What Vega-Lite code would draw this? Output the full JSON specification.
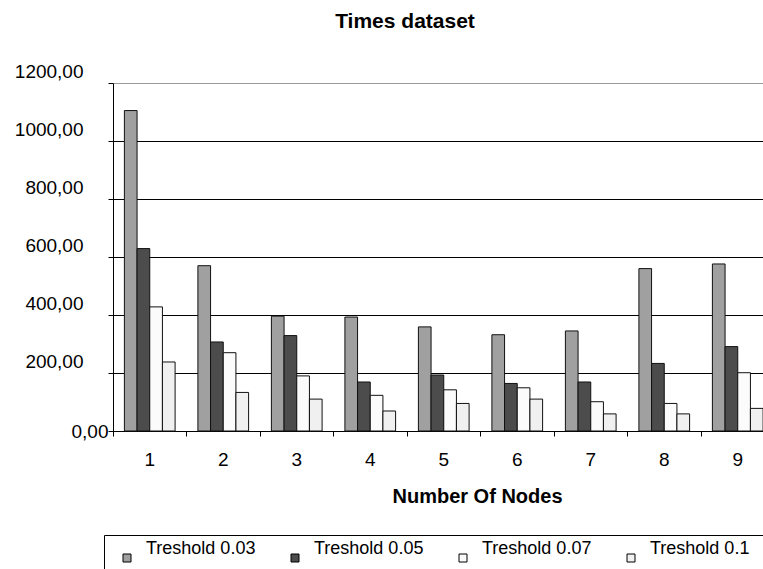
{
  "$schema": "https://vega.github.io/schema/vega-lite/v6.json",
  "autosize": {"type": "none"},
  "padding": {"left": 113, "top": 83, "right": 0, "bottom": 138},
  "width": 650,
  "height": 348,
  "background": "white",
  "title": {"text": "Times dataset", "font": "Liberation Sans", "fontSize": 21, "fontWeight": "bold", "color": "black", "anchor": "middle", "frame": "group", "dx": -33, "offset": 30},
  "data": {"values": [
    {"nodes": "1", "series": "Treshold 0.03", "time": 1105},
    {"nodes": "1", "series": "Treshold 0.05", "time": 629},
    {"nodes": "1", "series": "Treshold 0.07", "time": 428},
    {"nodes": "1", "series": "Treshold 0.1", "time": 238},
    {"nodes": "2", "series": "Treshold 0.03", "time": 570},
    {"nodes": "2", "series": "Treshold 0.05", "time": 307},
    {"nodes": "2", "series": "Treshold 0.07", "time": 270},
    {"nodes": "2", "series": "Treshold 0.1", "time": 133},
    {"nodes": "3", "series": "Treshold 0.03", "time": 396},
    {"nodes": "3", "series": "Treshold 0.05", "time": 329},
    {"nodes": "3", "series": "Treshold 0.07", "time": 190},
    {"nodes": "3", "series": "Treshold 0.1", "time": 110},
    {"nodes": "4", "series": "Treshold 0.03", "time": 393},
    {"nodes": "4", "series": "Treshold 0.05", "time": 169},
    {"nodes": "4", "series": "Treshold 0.07", "time": 123},
    {"nodes": "4", "series": "Treshold 0.1", "time": 69},
    {"nodes": "5", "series": "Treshold 0.03", "time": 359},
    {"nodes": "5", "series": "Treshold 0.05", "time": 193},
    {"nodes": "5", "series": "Treshold 0.07", "time": 142},
    {"nodes": "5", "series": "Treshold 0.1", "time": 95},
    {"nodes": "6", "series": "Treshold 0.03", "time": 332},
    {"nodes": "6", "series": "Treshold 0.05", "time": 164},
    {"nodes": "6", "series": "Treshold 0.07", "time": 149},
    {"nodes": "6", "series": "Treshold 0.1", "time": 110},
    {"nodes": "7", "series": "Treshold 0.03", "time": 345},
    {"nodes": "7", "series": "Treshold 0.05", "time": 169},
    {"nodes": "7", "series": "Treshold 0.07", "time": 101},
    {"nodes": "7", "series": "Treshold 0.1", "time": 59},
    {"nodes": "8", "series": "Treshold 0.03", "time": 560},
    {"nodes": "8", "series": "Treshold 0.05", "time": 233},
    {"nodes": "8", "series": "Treshold 0.07", "time": 95},
    {"nodes": "8", "series": "Treshold 0.1", "time": 59},
    {"nodes": "9", "series": "Treshold 0.03", "time": 576},
    {"nodes": "9", "series": "Treshold 0.05", "time": 291},
    {"nodes": "9", "series": "Treshold 0.07", "time": 201},
    {"nodes": "9", "series": "Treshold 0.1", "time": 78}
  ]},
  "mark": {"type": "bar", "stroke": "#111111", "strokeWidth": 1},
  "encoding": {
    "x": {
      "field": "nodes", "type": "ordinal",
      "scale": {"paddingInner": 0, "paddingOuter": 0, "range": [0, 661.5]},
      "axis": {
        "title": "Number Of Nodes", "titleFont": "Liberation Sans", "titleFontSize": 20, "titleFontWeight": "bold", "titleColor": "black",
        "titleX": 364, "titleY": 71, "titleBaseline": "alphabetic", "titleAlign": "center",
        "labelAngle": 0, "labelFont": "Liberation Sans", "labelFontSize": 19, "labelColor": "black",
        "labelBaseline": "alphabetic", "labelPadding": 29, "bandPosition": 0,
        "tickSize": 5, "tickColor": "black", "domainColor": "black", "grid": false
      }
    },
    "xOffset": {
      "field": "series", "type": "nominal",
      "sort": ["Treshold 0.03", "Treshold 0.05", "Treshold 0.07", "Treshold 0.1"],
      "scale": {"paddingInner": 0, "paddingOuter": 0.9}
    },
    "y": {
      "field": "time", "type": "quantitative",
      "scale": {"domain": [0, 1200]},
      "axis": {
        "title": null, "values": [0, 200, 400, 600, 800, 1000, 1200],
        "labelExpr": "replace(format(datum.value, '.2f'), '.', ',')",
        "labelFont": "Liberation Sans", "labelFontSize": 19, "labelColor": "black",
        "labelPadding": {"condition": {"test": "datum.value == 0", "value": 0}, "value": 25},
        "labelOffset": {"condition": {"test": "datum.value == 0", "value": 0}, "value": -12},
        "tickSize": 5, "tickColor": "black", "domainColor": "black",
        "grid": true, "gridWidth": 1,
        "gridColor": {"condition": {"test": "datum.value == 1200", "value": "#999999"}, "value": "black"}
      }
    },
    "color": {
      "field": "series", "type": "nominal",
      "scale": {"domain": ["Treshold 0.03", "Treshold 0.05", "Treshold 0.07", "Treshold 0.1"], "range": ["#a0a0a0", "#4c4c4c", "#fbfbfb", "#f0f0f0"]},
      "legend": {
        "title": null, "orient": "none", "legendX": -9, "legendY": 452, "direction": "horizontal",
        "strokeColor": "black", "fillColor": "white", "padding": 14,
        "symbolType": "square", "symbolSize": 64, "symbolStrokeColor": "black", "symbolStrokeWidth": 1,
        "labelFont": "Liberation Sans", "labelFontSize": 18, "labelColor": "black", "labelOffset": 10,
        "columnPadding": 30, "labelBaseline": "bottom"
      }
    }
  },
  "config": {"view": {"stroke": null}}
}
